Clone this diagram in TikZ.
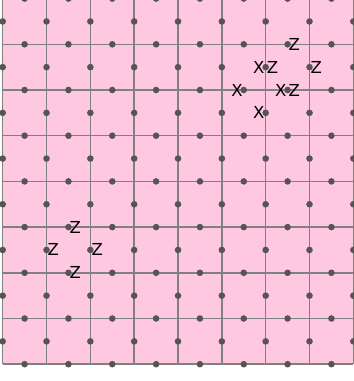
\documentclass[tikz,border=0pt]{standalone}
\usepackage{fontspec}
\setmainfont{DejaVu Sans}
\definecolor{bgpink}{RGB}{255,200,225}
\definecolor{linegray}{RGB}{128,128,128}
\definecolor{dotgray}{RGB}{85,85,85}
\tikzset{
  gridline/.style={draw=linegray, line width=1.5pt},
  qdot/.style={circle, fill=dotgray, inner sep=0pt, minimum size=6.6pt},
  plab/.style={inner sep=0pt, font=\fontsize{16.5}{20}\selectfont, text=black},
}
\begin{document}
\begin{tikzpicture}[x=1pt,y=-1pt]
\useasboundingbox (0,0) rectangle (354,381);
\clip (0,0) rectangle (354,381);
\fill[bgpink] (2.7,-1.4) rectangle (354,364.3);
% grid lines
\foreach \i in {0,...,8} \draw[gridline] ({2.7+\i*43.83},-1.4) -- ({2.7+\i*43.83},364.3);
\foreach \j in {0,...,8} \draw[gridline] (2.7,{-1.4+\j*45.7}) -- (353.3,{-1.4+\j*45.7});
% qubit dots on horizontal edges
\foreach \i in {0,...,7} \foreach \j in {0,...,8}
  \node[qdot] (h-\i-\j) at ({2.7+(\i+0.5)*43.83},{-1.4+\j*45.7}) {};
% qubit dots on vertical edges
\foreach \i in {0,...,8} \foreach \j in {0,...,7}
  \node[qdot] (v-\i-\j) at ({2.7+\i*43.83},{-1.4+(\j+0.5)*45.7}) {};
% labels, top-right cluster
\node[plab] (z-h-6-1) at ([xshift=6.8pt]h-6-1.center) {Z};
\node[plab] (x-v-6-1) at ([xshift=-6.8pt]v-6-1.center) {X};
\node[plab] (z-v-6-1) at ([xshift=6.8pt]v-6-1.center) {Z};
\node[plab] (z-v-7-1) at ([xshift=6.8pt]v-7-1.center) {Z};
\node[plab] (x-h-5-2) at ([xshift=-6.8pt]h-5-2.center) {X};
\node[plab] (x-h-6-2) at ([xshift=-6.8pt]h-6-2.center) {X};
\node[plab] (z-h-6-2) at ([xshift=6.8pt]h-6-2.center) {Z};
\node[plab] (x-v-6-2) at ([xshift=-6.8pt]v-6-2.center) {X};
% labels, bottom-left cluster
\node[plab] (z-h-1-5) at ([xshift=6.8pt]h-1-5.center) {Z};
\node[plab] (z-v-1-5) at ([xshift=6.8pt]v-1-5.center) {Z};
\node[plab] (z-v-2-5) at ([xshift=6.8pt]v-2-5.center) {Z};
\node[plab] (z-h-1-6) at ([xshift=6.8pt]h-1-6.center) {Z};
\end{tikzpicture}
\end{document}
